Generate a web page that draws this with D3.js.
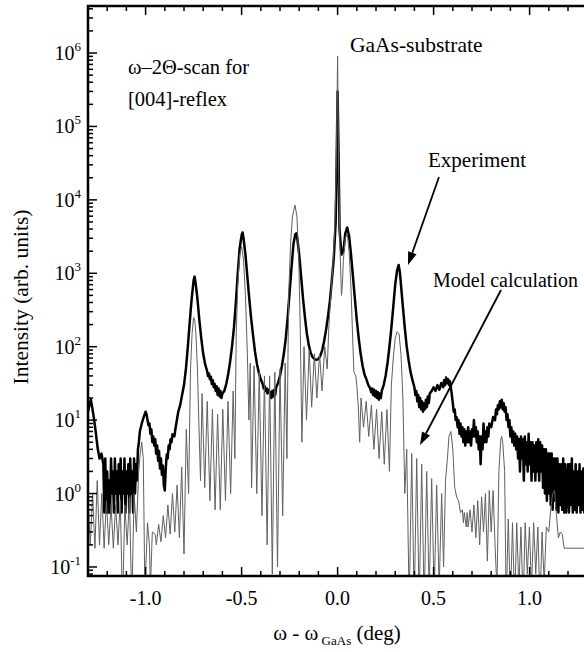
<!DOCTYPE html>
<html><head><meta charset="utf-8">
<script src="https://cdn.jsdelivr.net/npm/d3@7"></script>
<style>body{margin:0;background:#fff}svg{display:block}</style>
</head><body><svg id="c" width="584" height="652" font-family="'Liberation Serif', 'Times New Roman', 'DejaVu Serif', serif"></svg>
<script>
// ---- data ----
const xTicks = [-1.0, -0.5, 0.0, 0.5, 1.0];
const xTickLabels = ["-1.0", "-0.5", "0.0", "0.5", "1.0"];
const yDecades = [-1, 0, 1, 2, 3, 4, 5, 6];

const experiment = [
[-1.30,13],[-1.29,17],[-1.285,19],[-1.28,16],[-1.27,11],[-1.26,7],[-1.25,4.2],[-1.24,3],[-1.23,3.5],
[-1.22,2.5],[-1.215,0.55],[-1.21,3],[-1.205,0.55],[-1.20,2],[-1.195,0.55],[-1.19,1.5],[-1.185,0.55],
[-1.18,3],[-1.175,1],[-1.17,2],[-1.165,0.55],[-1.16,3],[-1.155,1],[-1.15,2],[-1.145,0.55],
[-1.14,2.5],[-1.135,1],[-1.13,3],[-1.125,0.55],[-1.12,2],[-1.115,1],[-1.11,3],[-1.105,0.55],
[-1.10,2],[-1.095,1],[-1.09,2.5],[-1.085,0.55],[-1.08,3],[-1.075,1],[-1.07,2],[-1.065,0.55],
[-1.06,3],[-1.055,1],[-1.05,2.5],[-1.045,1.5],[-1.04,4],[-1.035,5],[-1.03,7],[-1.02,9],
[-1.01,11],[-1.00,13],[-0.995,12],[-0.99,10],[-0.985,8.5],[-0.98,9],[-0.975,6.5],[-0.97,7.5],
[-0.965,5],[-0.96,6],[-0.955,4.5],[-0.95,5.5],[-0.945,3.5],[-0.94,4.5],[-0.935,2.8],[-0.93,3.8],
[-0.925,2.2],[-0.92,3],[-0.915,1.8],[-0.91,2.4],[-0.905,1.3],[-0.90,1.1],[-0.895,2.2],[-0.89,3.4],
[-0.885,3],[-0.88,4.5],[-0.875,4],[-0.87,5.5],[-0.865,5],[-0.86,6.4],[-0.85,6],[-0.845,7.5],
[-0.84,9],[-0.83,13],[-0.82,16],[-0.81,22],[-0.80,30],[-0.79,50],[-0.78,100],[-0.77,220],
[-0.76,450],[-0.75,800],[-0.745,900],[-0.74,750],[-0.73,450],[-0.72,230],[-0.71,130],[-0.70,80],
[-0.69,58],[-0.68,47],[-0.675,40],[-0.67,43],[-0.665,36],[-0.66,39],[-0.655,31],[-0.65,35],
[-0.645,28],[-0.64,31],[-0.635,25],[-0.63,29],[-0.625,22],[-0.62,27],[-0.615,21],[-0.61,25],
[-0.605,20],[-0.60,23],[-0.59,25],[-0.58,31],[-0.57,42],[-0.56,62],[-0.55,100],[-0.54,180],
[-0.53,400],[-0.52,1000],[-0.51,2200],[-0.50,3300],[-0.495,3600],[-0.49,3000],[-0.48,1800],[-0.47,900],
[-0.46,450],[-0.45,240],[-0.44,140],[-0.43,85],[-0.42,58],[-0.41,44],[-0.40,36],[-0.39,31],
[-0.385,27],[-0.38,29],[-0.375,25],[-0.37,27],[-0.365,23],[-0.36,26],[-0.35,23],[-0.345,20],
[-0.34,25],[-0.335,21],[-0.33,26],[-0.325,22],[-0.32,28],[-0.31,32],[-0.30,40],[-0.29,55],
[-0.28,80],[-0.27,130],[-0.26,250],[-0.25,550],[-0.24,1200],[-0.23,2500],[-0.22,3400],[-0.215,3500],
[-0.21,3000],[-0.20,1800],[-0.19,900],[-0.18,450],[-0.17,250],[-0.16,150],[-0.15,105],[-0.14,82],
[-0.13,72],[-0.12,68],[-0.11,66],[-0.10,68],[-0.09,75],[-0.08,90],[-0.07,120],[-0.06,170],
[-0.05,260],[-0.04,420],[-0.03,800],[-0.02,1600],[-0.01,5000],[-0.005,30000],[0.0,300000],[0.005,40000],
[0.01,4000],[0.02,1800],[0.03,2000],[0.04,3500],[0.05,4200],[0.06,3200],[0.07,1800],[0.08,900],
[0.09,450],[0.10,230],[0.11,130],[0.12,80],[0.13,55],[0.14,42],[0.15,36],[0.16,30],
[0.17,27],[0.175,24],[0.18,27],[0.185,22],[0.19,26],[0.195,21],[0.20,25],[0.205,20],
[0.21,24],[0.215,19],[0.22,23],[0.225,20],[0.23,25],[0.24,30],[0.25,40],[0.26,60],
[0.27,100],[0.28,180],[0.29,350],[0.30,700],[0.31,1100],[0.318,1300],[0.325,1000],[0.33,700],
[0.34,350],[0.35,180],[0.36,100],[0.37,65],[0.38,45],[0.39,35],[0.40,28],[0.405,22],
[0.41,25],[0.415,18],[0.42,22],[0.425,15],[0.43,20],[0.435,14],[0.44,18],[0.445,13],
[0.45,17],[0.455,14],[0.46,19],[0.465,15],[0.47,21],[0.475,17],[0.48,23],[0.49,25],
[0.50,28],[0.51,25],[0.52,30],[0.53,26],[0.54,32],[0.55,28],[0.555,35],[0.56,30],
[0.565,38],[0.57,32],[0.575,36],[0.58,30],[0.585,34],[0.59,28],[0.595,22],[0.60,17],
[0.605,13],[0.61,14],[0.615,10],[0.62,11],[0.625,8],[0.63,10],[0.635,6.5],[0.64,9],
[0.645,6],[0.65,8],[0.655,5],[0.66,7.5],[0.665,4.5],[0.67,7],[0.675,5],[0.68,8],
[0.685,5],[0.69,7],[0.695,4.5],[0.70,7.5],[0.705,6],[0.71,10],[0.715,6],[0.72,8],
[0.725,5],[0.73,7],[0.735,4],[0.74,6],[0.745,2.5],[0.75,6],[0.755,4],[0.76,9],
[0.765,5],[0.77,7],[0.775,5],[0.78,8],[0.785,6],[0.79,9],[0.80,8],[0.81,11],
[0.82,10],[0.825,14],[0.83,12],[0.835,16],[0.84,14],[0.845,18],[0.85,15],[0.855,19],
[0.86,14],[0.865,17],[0.87,13],[0.875,15],[0.88,10],[0.885,12],[0.89,8],[0.895,10],
[0.90,6],[0.905,8],[0.91,5],[0.915,7],[0.92,4.5],[0.925,6.5],[0.93,4],[0.935,6],
[0.94,3],[0.945,5.5],[0.95,2],[0.955,6],[0.96,3],[0.965,5.5],[0.97,1.5],[0.975,6],
[0.98,2.5],[0.985,5],[0.99,2],[0.995,6.5],[1.00,2.5],[1.005,5],[1.01,1.5],[1.015,5],
[1.02,2],[1.025,4.5],[1.03,1.5],[1.035,5],[1.04,2],[1.045,5.5],[1.05,1.5],[1.055,5],
[1.06,2],[1.065,4.5],[1.07,1.2],[1.075,4],[1.08,1],[1.085,4],[1.09,0.8],[1.095,3.5],
[1.10,1],[1.105,3.5],[1.11,0.7],[1.115,3.5],[1.12,0.6],[1.125,3],[1.13,0.8],[1.135,3],
[1.14,0.6],[1.145,3],[1.15,0.55],[1.155,2.5],[1.16,0.7],[1.165,2.5],[1.17,0.6],[1.175,3],
[1.18,0.55],[1.185,2.5],[1.19,0.55],[1.20,2.5],[1.205,0.55],[1.21,2.5],[1.215,0.7],[1.22,3],
[1.225,0.55],[1.23,2],[1.235,0.6],[1.24,2.5],[1.245,0.55],[1.25,2],[1.255,0.7],[1.26,2.5],
[1.265,0.55],[1.27,2],[1.275,0.6],[1.28,2.2],[1.285,0.55],[1.29,2],[1.295,0.7],[1.30,1.5]
];

const model = [
[-1.300,0.8],[-1.288,0.2],[-1.276,1.0],[-1.264,0.18],[-1.252,1.5],[-1.240,0.2],[-1.228,1.0],[-1.216,0.18],
[-1.204,0.8],[-1.192,0.2],[-1.180,0.7],[-1.168,0.18],[-1.156,0.7],[-1.144,0.2],[-1.132,0.8],[-1.120,0.03],
[-1.108,0.7],[-1.096,0.2],[-1.084,0.9],[-1.072,0.03],[-1.060,1.0],[-1.048,0.3],[-1.036,2],[-1.028,3.5],
[-1.020,5],[-1.012,3],[-1.004,0.05],[-0.996,0.15],[-0.990,0.4],[-0.980,0.2],[-0.975,0.05],[-0.965,0.3],
[-0.950,0.28],[-0.944,0.2],[-0.932,0.38],[-0.920,0.22],[-0.908,0.5],[-0.896,0.25],[-0.884,0.7],[-0.872,0.28],
[-0.860,1.0],[-0.848,0.3],[-0.836,1.3],[-0.824,0.25],[-0.812,2.3],[-0.800,0.15],[-0.788,7.5],[-0.776,1],
[-0.766,50],[-0.758,150],[-0.750,250],[-0.744,230],[-0.738,150],[-0.730,50],[-0.722,8],[-0.714,1.5],
[-0.706,23],[-0.692,1.2],[-0.679,18],[-0.665,0.8],[-0.652,14],[-0.638,0.6],[-0.625,12],[-0.611,0.6],
[-0.598,14],[-0.584,0.8],[-0.571,18],[-0.557,1.0],[-0.544,25],[-0.535,3],[-0.528,150],[-0.52,700],
[-0.51,1800],[-0.50,2300],[-0.49,1500],[-0.48,500],[-0.470,80],[-0.462,10],[-0.455,60],[-0.448,1.2],
[-0.435,55],[-0.421,1],[-0.408,45],[-0.394,0.5],[-0.381,40],[-0.367,0.2],[-0.354,40],[-0.340,0.08],
[-0.327,45],[-0.313,0.1],[-0.300,50],[-0.286,0.5],[-0.273,60],[-0.264,3],[-0.255,500],[-0.245,2500],
[-0.235,6000],[-0.222,8500],[-0.212,6000],[-0.202,1500],[-0.194,150],[-0.186,5],[-0.175,100],[-0.162,10],
[-0.148,90],[-0.135,15],[-0.121,80],[-0.108,20],[-0.094,80],[-0.081,25],[-0.067,100],[-0.054,50],
[-0.045,200],[-0.035,500],[-0.025,1200],[-0.015,4000],[-0.007,30000],[0.0,900000],[0.005,30000],[0.012,2500],
[0.02,500],[0.025,700],[0.03,1500],[0.04,3000],[0.05,3500],[0.06,2000],[0.07,600],[0.08,100],
[0.085,45],[0.095,40],[0.10,30],[0.108,15],[0.115,5],[0.122,20],[0.135,8],[0.149,18],
[0.162,6],[0.176,16],[0.189,4],[0.203,14],[0.216,3],[0.230,13],[0.243,2.5],[0.257,14],
[0.270,2],[0.28,30],[0.29,70],[0.30,130],[0.31,160],[0.32,150],[0.33,80],[0.34,20],
[0.350,1],[0.360,4],[0.373,0.03],[0.386,3.5],[0.399,0.03],[0.412,3],[0.425,0.03],[0.438,2.5],
[0.451,0.03],[0.464,2],[0.477,0.04],[0.490,1.6],[0.503,0.04],[0.516,1.3],[0.529,0.05],[0.542,1.0],
[0.552,0.1],[0.562,1.5],[0.572,3],[0.58,6],[0.59,7],[0.60,4],[0.61,1.2],[0.62,0.9],
[0.63,0.8],[0.64,0.55],[0.65,0.6],[0.655,0.4],[0.66,0.55],[0.67,0.35],[0.675,0.55],[0.68,0.35],
[0.69,0.6],[0.70,0.3],[0.71,0.7],[0.72,0.25],[0.73,0.8],[0.74,0.2],[0.75,0.9],[0.76,0.3],
[0.77,1.0],[0.78,0.12],[0.79,1.1],[0.80,0.3],[0.81,1.1],[0.82,0.2],[0.83,0.05],[0.84,2],
[0.85,5.5],[0.855,6],[0.86,5],[0.87,2],[0.878,0.03],[0.889,0.45],[0.900,0.03],[0.911,0.4],
[0.922,0.03],[0.933,0.4],[0.944,0.05],[0.955,0.35],[0.966,0.03],[0.977,0.4],[0.988,0.08],[0.999,0.35],
[1.010,0.05],[1.021,0.4],[1.032,0.08],[1.043,0.35],[1.054,0.03],[1.065,0.3],[1.076,0.06],[1.087,0.35],
[1.10,0.3],[1.11,0.6],[1.12,1.0],[1.13,1.1],[1.14,0.5],[1.15,0.25],[1.16,0.3],[1.17,0.28],
[1.18,0.18],[1.29,0.18],[1.295,0.1],[1.30,0.08]
];

// ---- drawing ----
const svg = d3.select("#c");
const L = 88, R = 587.2, T = 6, B = 576;
const x = d3.scaleLinear().domain([-1.3, 1.3]).range([L, R]);
const y = d3.scaleLog().domain([0.0753, 4.37e6]).range([B, T]);

svg.append("clipPath").attr("id","clip").append("rect")
  .attr("x", L).attr("y", T).attr("width", R - L).attr("height", B - T);

const line = d3.line().x(d => x(d[0])).y(d => y(Math.max(d[1], 0.01)));
const g = svg.append("g").attr("clip-path","url(#clip)");
g.append("path").datum(experiment).attr("d", line)
  .attr("fill","none").attr("stroke","#000").attr("stroke-width",2.5).attr("stroke-linejoin","round");
g.append("path").datum(model).attr("d", line)
  .attr("fill","none").attr("stroke","#606060").attr("stroke-width",1);

// frame
svg.append("rect").attr("x", L).attr("y", T).attr("width", R - L).attr("height", B - T)
  .attr("fill","none").attr("stroke","#000").attr("stroke-width",2.5);

// x ticks (bottom + top, inward)
const xMinor = d3.range(-13, 14).map(i => i / 10);
const tk = svg.append("g").attr("stroke","#000").attr("stroke-width",1.5);
xMinor.forEach(v => {
  const major = Math.abs(v * 2 - Math.round(v * 2)) < 1e-6;
  const len = major ? 9 : 5;
  tk.append("line").attr("x1", x(v)).attr("x2", x(v)).attr("y1", B).attr("y2", B - len);
  tk.append("line").attr("x1", x(v)).attr("x2", x(v)).attr("y1", T).attr("y2", T + len);
});
// y ticks
yDecades.forEach(d => {
  for (let k = 1; k <= 9; k++) {
    const v = k * Math.pow(10, d);
    if (v > 4.37e6) continue;
    const len = k === 1 ? 9 : 5;
    tk.append("line").attr("x1", L).attr("x2", L + len).attr("y1", y(v)).attr("y2", y(v));
  }
});
[0.08, 0.09].forEach(v => tk.append("line").attr("x1", L).attr("x2", L + 5).attr("y1", y(v)).attr("y2", y(v)));

// tick labels
xTicks.forEach((v, i) => {
  svg.append("text").attr("x", x(v)).attr("y", 605).attr("text-anchor","middle")
    .attr("font-size", 20).text(xTickLabels[i]);
});
yDecades.forEach(d => {
  const t = svg.append("text").attr("x", 81).attr("y", y(Math.pow(10, d)) + 7)
    .attr("text-anchor","end").attr("font-size", 20);
  t.append("tspan").text("10");
  t.append("tspan").attr("dy", -9).attr("font-size", 13).text(String(d));
});

// axis titles
const xt = svg.append("text").attr("x", 337).attr("y", 640).attr("text-anchor","middle").attr("font-size", 21);
xt.append("tspan").text("ω - ω");
xt.append("tspan").attr("dy", 5).attr("font-size", 13).text(" GaAs");
xt.append("tspan").attr("dy", -5).text(" (deg)");
svg.append("text").attr("transform","translate(28,297) rotate(-90)").attr("text-anchor","middle")
  .attr("font-size", 21.5).text("Intensity (arb. units)");

// annotations
svg.append("text").attr("x",128).attr("y",74).attr("font-size",20.5).text("ω–2Θ-scan for");
svg.append("text").attr("x",128).attr("y",106).attr("font-size",20.5).text("[004]-reflex");
svg.append("text").attr("x",350).attr("y",52).attr("font-size",21.5).text("GaAs-substrate");
svg.append("text").attr("x",428).attr("y",167).attr("font-size",21).text("Experiment");
svg.append("text").attr("x",433).attr("y",287).attr("font-size",20).text("Model calculation");

function arrow(x1, y1, x2, y2) {
  const a = Math.atan2(y2 - y1, x2 - x1), hl = 13, hw = 4.5;
  const bx = x2 - hl * Math.cos(a), by = y2 - hl * Math.sin(a);
  svg.append("line").attr("x1", x1).attr("y1", y1).attr("x2", bx).attr("y2", by)
    .attr("stroke","#000").attr("stroke-width",1.8);
  const px = -Math.sin(a) * hw, py = Math.cos(a) * hw;
  svg.append("path").attr("d", `M${x2},${y2}L${bx + px},${by + py}L${bx - px},${by - py}Z`).attr("fill","#000");
}
arrow(439, 177, 408, 265);
arrow(501, 290, 420, 445);
</script></body></html>
